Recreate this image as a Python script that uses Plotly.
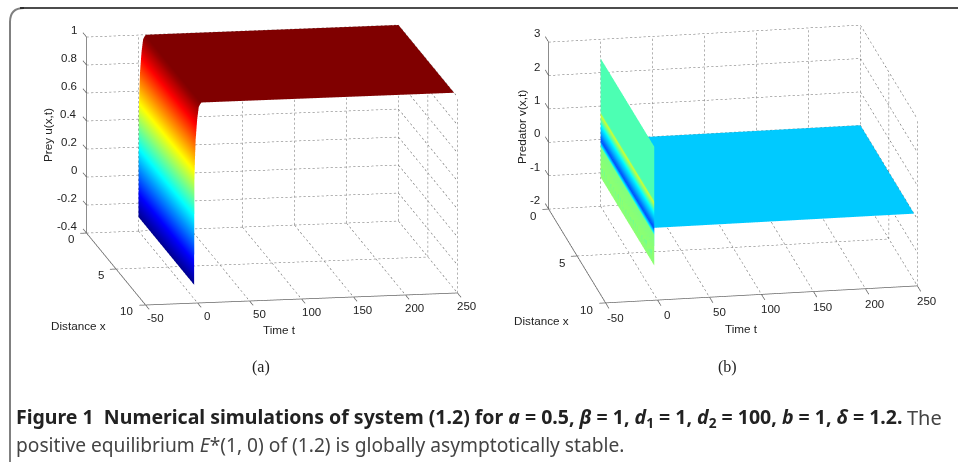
import numpy as np
import plotly.graph_objects as go

# ---------- data ----------
distance = [0, 2.5, 5, 7.5, 9.42]

time_a = [0, 0.03, 0.06, 0.1, 0.15, 0.2, 0.3, 0.8, 1.5, 2.2, 3, 4.5, 6, 7, 9, 12, 20, 50, 100, 150, 200, 250]
prey_a = [-0.3, -0.2, -0.1, 0.0, 0.1, 0.25, 0.45, 0.6, 0.74, 0.81, 0.886, 0.97, 0.99, 1.0, 1.0, 1.0, 1.0, 1.0, 1.0, 1.0, 1.0, 1.0]

time_b = [0, 0.001, 0.002, 0.003, 0.004, 0.005, 0.006, 0.007, 0.008, 0.009, 0.01, 0.011, 0.012, 0.1, 1, 50, 100, 150, 200, 250]
pred_b = [2.43, 0.87, 0.81, 0.75, 0.62, 0.43, 0.22, -0.02, -0.08, -0.17, -0.23, -0.7, -1.13, 0.0, 0.0, 0.0, 0.0, 0.0, 0.0, 0.0]
pred_colour = [0.45, 0.45, 0.47, 0.58, 0.5, 0.37, 0.3, 0.2, 0.27, 0.37, 0.5, 0.51, 0.515, 0.325, 0.325, 0.325, 0.325, 0.325, 0.325, 0.325]

t_ticks = [-50, 0, 50, 100, 150, 200, 250]
d_ticks = [0, 5, 10]
z_ticks_a = [-0.4, -0.2, 0, 0.2, 0.4, 0.6, 0.8, 1]
z_ticks_b = [-2, -1, 0, 1, 2, 3]
z_labels_a = ["-0.4", "-0.2", "0", "0.2", "0.4", "0.6", "0.8", "1"]
z_labels_b = ["-2", "-1", "0", "1", "2", "3"]

JET = [[0, "#00008F"], [0.125, "#0000FF"], [0.375, "#00FFFF"], [0.625, "#FFFF00"], [0.875, "#FF0000"], [1, "#800000"]]
FLAT = dict(ambient=1, diffuse=0, specular=0, roughness=1, fresnel=0)
W, H = 958, 464
TICKFONT = dict(family="Liberation Sans", size=11.5, color="#222")
TITLEFONT = dict(family="Liberation Sans", size=11.7, color="#222")
DOT_SPACING = 4.5   # pixels between grid dots
DOT_LENGTH = 0.5    # share of the spacing that is inked


def segs(pairs):
    xs, ys, zs = [], [], []
    for (a, b) in pairs:
        xs += [a[0], b[0], None]
        ys += [a[1], b[1], None]
        zs += [a[2], b[2], None]
    return xs, ys, zs


def dotted(pairs, px_per_unit):
    out = []
    for a, b in pairs:
        a, b = np.array(a, float), np.array(b, float)
        length = np.abs((b - a) * np.array(px_per_unit)).max()
        n = max(1, int(length / DOT_SPACING))
        for i in range(n):
            p = a + (b - a) * i / n
            q = a + (b - a) * (i + DOT_LENGTH) / n
            out.append((tuple(p), tuple(q)))
    return out


def line(scene, pairs, colour, width):
    x, y, z = segs(pairs)
    return go.Scatter3d(x=x, y=y, z=z, mode="lines", scene=scene, showlegend=False, hoverinfo="skip",
                        line=dict(color=colour, width=width))


def frame(scene, zt, px_per_unit):
    tl, th = t_ticks[0], t_ticks[-1]
    dl, dh = d_ticks[0], d_ticks[-1]
    zl, zh = zt[0], zt[-1]
    grid = []
    for t in t_ticks:
        grid.append(((t, dl, zl), (t, dl, zh)))
        grid.append(((t, dl, zl), (t, dh, zl)))
    for d in d_ticks:
        grid.append(((tl, d, zl), (th, d, zl)))
        grid.append(((th, d, zl), (th, d, zh)))
    for z in zt:
        grid.append(((tl, dl, z), (th, dl, z)))
        grid.append(((th, dl, z), (th, dh, z)))
    axes = [((tl, dl, zl), (tl, dl, zh)), ((tl, dl, zl), (tl, dh, zl)), ((tl, dh, zl), (th, dh, zl))]
    axes += [((t, dh, zl), (t, dh + 0.6, zl)) for t in t_ticks]
    axes += [((tl, d, zl), (tl - 6, d, zl)) for d in d_ticks]
    axes += [((tl, dl, z), (tl, dl - 0.6, z)) for z in zt]
    return [line(scene, dotted(grid, px_per_unit), "#666666", 1), line(scene, axes, "#666666", 1.5)]


def tick_annotations(zt, zlabels, zshift, dshift, tshift):
    tl, dl, dh, zl = t_ticks[0], d_ticks[0], d_ticks[-1], zt[0]
    out = []
    for z, s in zip(zt, zlabels):
        out.append(dict(x=tl, y=dl, z=z, text=s, showarrow=False, xanchor="right", yanchor="middle",
                        xshift=zshift[0], yshift=zshift[1], font=TICKFONT))
    for d in d_ticks:
        out.append(dict(x=tl, y=d, z=zl, text=str(d), showarrow=False, xanchor="right", yanchor="middle",
                        xshift=dshift[0], yshift=dshift[1], font=TICKFONT))
    for t in t_ticks:
        out.append(dict(x=t, y=dh, z=zl, text=str(t), showarrow=False, xanchor="center", yanchor="middle",
                        xshift=tshift[0], yshift=tshift[1], font=TICKFONT))
    return out


def scene_layout(cx, cy, w, h, eye, aspect, zrange, ann):
    hidden = dict(visible=False, showspikes=False)
    return dict(
        domain=dict(x=[(cx - w / 2) / W, (cx + w / 2) / W], y=[1 - (cy + h / 2) / H, 1 - (cy - h / 2) / H]),
        xaxis=dict(range=[-60, 260], **hidden),
        yaxis=dict(range=[11, -1], **hidden),
        zaxis=dict(range=zrange, **hidden),
        aspectmode="manual",
        aspectratio=dict(x=aspect[0], y=aspect[1], z=aspect[2]),
        camera=dict(eye=dict(x=eye[0], y=eye[1], z=eye[2]), up=dict(x=0, y=0, z=1),
                    center=dict(x=0, y=0, z=0), projection=dict(type="orthographic")),
        annotations=ann,
        bgcolor="white",
    )


fig = go.Figure()
fig.add_trace(go.Surface(x=time_a, y=distance, z=np.outer(np.ones(len(distance)), prey_a),
                         surfacecolor=np.outer(np.ones(len(distance)), prey_a), cmin=-0.3, cmax=1,
                         colorscale=JET, showscale=False, lighting=FLAT, scene="scene", hoverinfo="skip"))
fig.add_traces(frame("scene", z_ticks_a, (1.04, 9.0, 140)))
fig.add_trace(go.Surface(x=time_b, y=distance, z=np.outer(np.ones(len(distance)), pred_b),
                         surfacecolor=np.outer(np.ones(len(distance)), pred_colour), cmin=0, cmax=1,
                         colorscale=JET, showscale=False, lighting=FLAT, scene="scene2", hoverinfo="skip"))
fig.add_traces(frame("scene2", z_ticks_b, (1.04, 10.5, 33.4)))

R = 2.0
ZOOM = 2.5
eye_a = np.array([-0.171, -0.961, 0.2167]) * R
eye_b = np.array([-0.171, -0.939, 0.30]) * R
asp_a = (ZOOM * 337.9 / 400, ZOOM * 404.4 / 400, ZOOM * 229.5 / 400)
asp_b = (ZOOM * 338 / 400, ZOOM * 381.6 / 400, ZOOM * 196 / 400)

paper_notes = [
    dict(x=47, y=135, text="Prey u(x,t)", textangle=-90, font=TITLEFONT),
    dict(x=78, y=325, text="Distance x", font=TITLEFONT),
    dict(x=279, y=329, text="Time t", font=TITLEFONT),
    dict(x=521, y=127, text="Predator v(x,t)", textangle=-90, font=TITLEFONT),
    dict(x=541, y=320, text="Distance x", font=TITLEFONT),
    dict(x=741, y=328, text="Time t", font=TITLEFONT),
    dict(x=261, y=367, text="(a)", font=dict(family="Liberation Serif", size=16, color="#222")),
    dict(x=727, y=367, text="(b)", font=dict(family="Liberation Serif", size=16, color="#222")),
]
annotations = [dict(xref="paper", yref="paper", x=n["x"] / W, y=1 - n["y"] / H, showarrow=False,
                    xanchor="center", yanchor="middle", text=n["text"], font=n["font"],
                    textangle=n.get("textangle", 0)) for n in paper_notes]
CAP = dict(family="Noto Sans", size=19.2, color="#444")
CAPB = dict(family="Noto Sans", size=19.5, color="#222")
annotations.append(dict(xref="paper", yref="paper", x=14 / W, y=1 - 417 / H, showarrow=False, xanchor="left", yanchor="middle", font=CAPB,
                        text="<b>Figure 1  Numerical simulations of system (1.2) for <i>a</i> = 0.5, <i>β</i> = 1, <i>d</i><sub>1</sub> = 1, <i>d</i><sub>2</sub> = 100, <i>b</i> = 1, <i>δ</i> = 1.2.</b>"))
annotations.append(dict(xref="paper", yref="paper", x=905 / W, y=1 - 417 / H, showarrow=False, xanchor="left", yanchor="middle",
                        font=dict(family="Noto Sans", size=20, color="#444"), text="The"))
annotations.append(dict(xref="paper", yref="paper", x=14 / W, y=1 - 444 / H, showarrow=False, xanchor="left", yanchor="middle", font=CAP,
                        text="positive equilibrium <i>E</i>*(1, 0) of (1.2) is globally asymptotically stable."))

shapes = [
    dict(type="path", xref="paper", yref="paper", line=dict(color="#808080", width=2),
         path=f"M {10/W} {1-462/H} L {10/W} {1-22/H} Q {10/W} {1-8/H} {24/W} {1-8/H}"),
    dict(type="line", xref="paper", yref="paper", x0=20 / W, x1=1, y0=1 - 8 / H, y1=1 - 8 / H,
         line=dict(color="#111", width=1.5)),
]

fig.update_layout(
    width=W, height=H, margin=dict(l=0, r=0, t=0, b=0), paper_bgcolor="white", showlegend=False,
    scene=scene_layout(271.5, 165, 420, 320, eye_a, asp_a, [-0.5, 1.1],
                       tick_annotations(z_ticks_a, z_labels_a, (-7, 7), (-10, -6), (10, -13))),
    scene2=scene_layout(732.5, 164, 420, 320, eye_b, asp_b, [-2.3, 3.3],
                        tick_annotations(z_ticks_b, z_labels_b, (-6, 9), (-10, -7), (10, -15))),
    annotations=annotations, shapes=shapes,
)
fig.write_html("out.html", config=dict(displayModeBar=False),
               post_script="document.body.style.margin='0';document.documentElement.style.overflow='hidden';")
